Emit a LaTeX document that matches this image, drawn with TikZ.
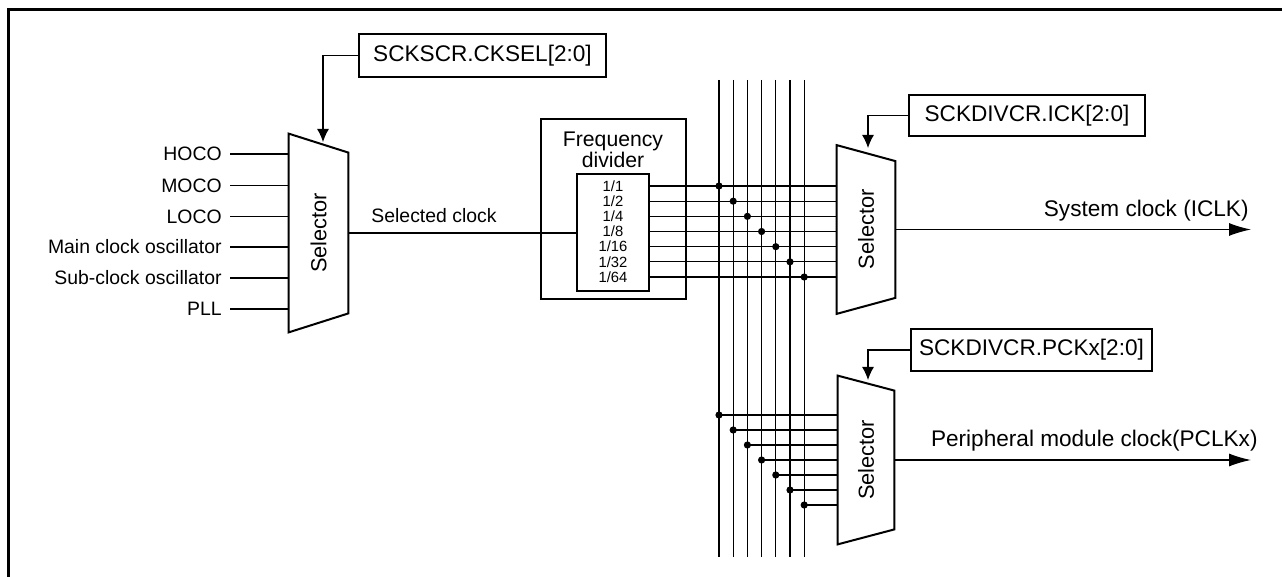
\documentclass[tikz,border=0pt]{standalone}
\usepackage{fontspec}
\setmainfont{Liberation Sans}
\usetikzlibrary{arrows.meta}

\tikzset{
  wire/.style={line width=0.6pt},
  muxline/.style={line width=1pt, line join=miter},
  selbox/.style={rectangle, inner sep=0pt, font=\fontsize{10.9}{12}\selectfont},
  regbox/.style={draw, line width=1pt, inner sep=0pt, font=\fontsize{11.3}{13}\selectfont},
  divbox/.style={draw, line width=1pt, inner sep=0pt},
  inlabel/.style={anchor=east, inner sep=4pt, font=\fontsize{9.7}{11}\selectfont},
  outlabel/.style={inner sep=0pt, anchor=base east, font=\fontsize{11.3}{13}\selectfont},
  fraclabel/.style={inner sep=0pt, font=\fontsize{7.4}{8}\selectfont},
  ctlarrow/.style={wire, -{Latex[length=6.5pt,width=6pt]}},
  outarrow/.style={wire, -{Latex[length=11pt,width=6.5pt]}},
}

\begin{document}
\begin{tikzpicture}[x=0.5pt, y=-0.5pt]
\useasboundingbox (0,0) rectangle (1282,577);
% frame (open to the right and bottom)
\draw[line width=1.6pt] (1282,9.5) -- (8.5,9.5) -- (8.5,577);

% clock source selector
\node[selbox, minimum width=29.5pt, minimum height=99pt] (selA) at (318.5,233) {\rotatebox{90}{Selector}};
\draw[muxline] (selA.north west) -- ([yshift=-9.5pt]selA.north east) -- ([yshift=9.5pt]selA.south east) -- (selA.south west) -- cycle;
\node[regbox, minimum width=123.5pt, minimum height=21.5pt] (regA) at (482.5,55.5) {SCKSCR.CKSEL[2:0]};
\coordinate (ctlA) at (323,142);
\draw[ctlarrow] (regA.west) -| (ctlA);

% sources
\node[inlabel] (hoco) at (230,154) {HOCO};
\node[inlabel] (moco) at (230,185.5) {MOCO};
\node[inlabel] (loco) at (230,216.5) {LOCO};
\node[inlabel] (mainosc) at (230,247) {Main clock oscillator};
\node[inlabel] (subosc) at (230,278) {Sub-clock oscillator};
\node[inlabel] (pll) at (230,309) {PLL};
\foreach \n in {hoco,moco,loco,mainosc,subosc,pll}
  \draw[wire] (\n.east) -- (\n.east -| selA.west);

% frequency divider
\node[divbox, minimum width=72.75pt, minimum height=90pt] (divOut) at (613.25,209) {};
\node[inner sep=0pt, align=center, font=\fontsize{10.6}{10.2}\selectfont] (divTitle) at (613,150) {Frequency\\divider};
\node[divbox, minimum width=36pt, minimum height=58.5pt] (divIn) at (613,232.5) {};
\node[font=\fontsize{9.7}{11}\selectfont, inner sep=0pt] (selClk) at (434,216) {Selected clock};
\draw[wire] (selA.east) -- (selA.east -| divIn.west);
\foreach \t [count=\i] in {1/1,1/2,1/4,1/8,1/16,1/32,1/64}
  \node[fraclabel] (f\i) at (613,{186+15.17*(\i-1)}) {\t};

% system clock selector
\node[selbox, minimum width=29pt, minimum height=84pt] (selB) at (866,229.5) {\rotatebox{90}{Selector}};
\draw[muxline] (selB.north west) -- ([yshift=-8pt]selB.north east) -- ([yshift=8pt]selB.south east) -- (selB.south west) -- cycle;
\node[regbox, minimum width=118pt, minimum height=20.5pt] (regB) at (1027,115.5) {SCKDIVCR.ICK[2:0]};
\coordinate (ctlB) at (868,148);
\draw[ctlarrow] (regB.west) -| (ctlB);

% peripheral clock selector
\node[selbox, minimum width=28pt, minimum height=84pt] (selC) at (866,460) {\rotatebox{90}{Selector}};
\draw[muxline] (selC.north west) -- ([yshift=-7.5pt]selC.north east) -- ([yshift=7.5pt]selC.south east) -- (selC.south west) -- cycle;
\node[regbox, minimum width=120.5pt, minimum height=21pt] (regC) at (1031.5,350) {SCKDIVCR.PCKx[2:0]};
\coordinate (ctlC) at (868,380);
\draw[ctlarrow] (regC.west) -| (ctlC);

% bus of divided clocks
\foreach \i in {1,...,7} {
  \coordinate (bt\i) at ({719+14.2*(\i-1)},80);
  \coordinate (bb\i) at ({719+14.2*(\i-1)},557);
  \draw[wire] (bt\i) -- (bb\i);
  \draw[wire] (divIn.east |- f\i) -- (selB.west |- f\i);
  \fill (bt\i |- f\i) circle[radius=1.8pt];
  \coordinate (r\i) at ({719+14.2*(\i-1)},{415+15*(\i-1)});
  \fill (r\i) circle[radius=1.8pt];
  \draw[wire] (r\i) -- (r\i -| selC.west);
}

% outputs
\coordinate (iclk) at (1251,229.5);
\draw[outarrow] (selB.east) -- (iclk);
\node[outlabel] (iclkText) at (1249,217) {System clock (ICLK)};
\coordinate (pclk) at (1251,460);
\draw[outarrow] (selC.east) -- (pclk);
\node[outlabel] (pclkText) at (1258,446.5) {Peripheral module clock(PCLKx)};
\end{tikzpicture}
\end{document}
